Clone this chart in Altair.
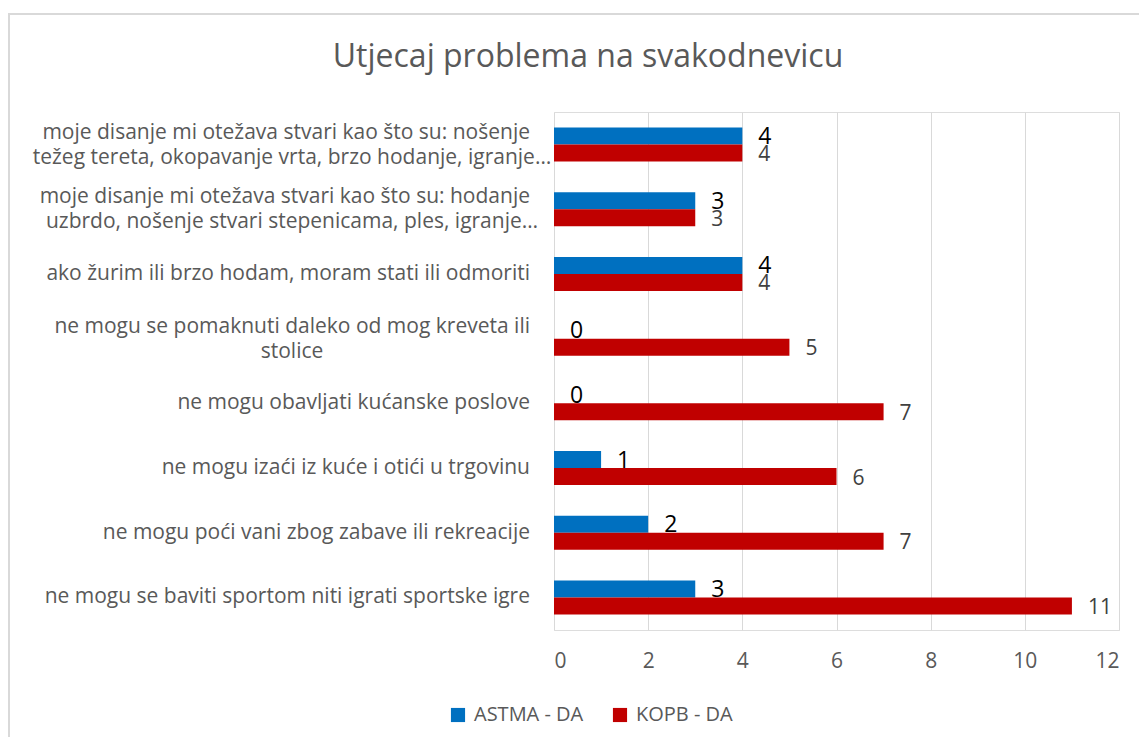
import altair as alt
import pandas as pd

title_text = "Utjecaj problema na svakodnevicu"

categories = [
    "moje disanje mi otežava stvari kao što su: nošenje težeg tereta, okopavanje vrta, brzo hodanje, igranje…",
    "moje disanje mi otežava stvari kao što su: hodanje uzbrdo, nošenje stvari stepenicama, ples, igranje…",
    "ako žurim ili brzo hodam, moram stati ili odmoriti",
    "ne mogu se pomaknuti daleko od mog kreveta ili stolice",
    "ne mogu obavljati kućanske poslove",
    "ne mogu izaći iz kuće i otići u trgovinu",
    "ne mogu poći vani zbog zabave ili rekreacije",
    "ne mogu se baviti sportom niti igrati sportske igre",
]
label_line1 = [
    "moje disanje mi otežava stvari kao što su: nošenje",
    "moje disanje mi otežava stvari kao što su: hodanje",
    "ako žurim ili brzo hodam, moram stati ili odmoriti",
    "ne mogu se pomaknuti daleko od mog kreveta ili",
    "ne mogu obavljati kućanske poslove",
    "ne mogu izaći iz kuće i otići u trgovinu",
    "ne mogu poći vani zbog zabave ili rekreacije",
    "ne mogu se baviti sportom niti igrati sportske igre",
]
label_line2 = [
    "težeg tereta, okopavanje vrta, brzo hodanje, igranje…",
    "uzbrdo, nošenje stvari stepenicama, ples, igranje…",
    "",
    "stolice",
    "",
    "",
    "",
    "",
]
series = ["ASTMA - DA", "KOPB - DA"]
astma = [4, 3, 4, 0, 0, 1, 2, 3]
kopb = [4, 3, 4, 5, 7, 6, 7, 11]
x_ticks = [0, 2, 4, 6, 8, 10, 12]
colors = ["#0070C0", "#C00000"]

rows = []
for c, a, k in zip(categories, astma, kopb):
    rows.append({"cat": c, "series": series[0], "value": a})
    rows.append({"cat": c, "series": series[1], "value": k})
df = pd.DataFrame(rows)
lab = pd.DataFrame({"cat": categories, "l1": label_line1, "l2": label_line2})

FONT = "Open Sans"
GRAY = "#595959"
CAT_FS = 21

yenc = alt.Y("cat:N", sort=categories, axis=None,
             scale=alt.Scale(domain=categories, paddingInner=0.475, paddingOuter=0.24))
yoff = alt.YOffset("series:N", sort=series, scale=alt.Scale(domain=series))
xenc = alt.X("value:Q", scale=alt.Scale(domain=[0, 12], nice=False),
             axis=alt.Axis(values=x_ticks, title=None, grid=True, gridColor="#d9d9d9",
                           gridWidth=1, domain=False, ticks=False, labelFontSize=21,
                           labelColor=GRAY, labelFont=FONT, labelPadding=20))

bars = alt.Chart(df).mark_bar().encode(
    x=xenc, y=yenc, yOffset=yoff,
    color=alt.Color("series:N", sort=series,
                    scale=alt.Scale(domain=series, range=colors),
                    legend=alt.Legend(orient="none", legendX=-106, legendY=593,
                                      direction="horizontal", title=None,
                                      symbolType="square", symbolSize=200,
                                      symbolStrokeWidth=0, labelFontSize=20,
                                      labelFont=FONT, labelColor=GRAY,
                                      columnPadding=26, labelOffset=6)),
)

lab_astma = alt.Chart(df).transform_filter(alt.datum.series == series[0]).mark_text(
    align="left", baseline="middle", dx=16, dy=1, fontSize=23, color="black", font=FONT
).encode(x="value:Q", y=yenc, yOffset=yoff, text="value:Q")

lab_kopb = alt.Chart(df).transform_filter(alt.datum.series == series[1]).mark_text(
    align="left", baseline="middle", dx=16, dy=2, fontSize=21, color="#404040", font=FONT
).encode(x="value:Q", y=yenc, yOffset=yoff, text="value:Q")

cat_single = alt.Chart(lab).transform_filter(alt.datum.l2 == "").mark_text(
    align="right", baseline="middle", fontSize=CAT_FS, color=GRAY, font=FONT
).encode(y=yenc, x=alt.value(-24), text="l1:N")

cat_two1 = alt.Chart(lab).transform_filter(alt.datum.l2 != "").mark_text(
    align="right", baseline="middle", dy=-12, fontSize=CAT_FS, color=GRAY, font=FONT
).encode(y=yenc, x=alt.value(-24), text="l1:N")

cat_two2 = alt.Chart(lab).transform_filter(alt.datum.l2 != "").mark_text(
    align="center", baseline="middle", dy=13, fontSize=CAT_FS, color=GRAY, font=FONT
).encode(y=yenc, x=alt.value(-262), text="l2:N")

tdf = pd.DataFrame({"t": [title_text]})
title = alt.Chart(tdf).mark_text(
    align="center", baseline="middle", fontSize=32, color=GRAY, font=FONT
).encode(x=alt.value(34), y=alt.value(-55), text="t:N")

border = alt.Chart(tdf).mark_rect(fill="transparent", stroke="#d9d9d9", strokeWidth=2).encode(
    x=alt.value(-545), x2=alt.value(620), y=alt.value(-98), y2=alt.value(660)
)

chart = alt.layer(border, bars, lab_astma, lab_kopb, cat_single, cat_two1, cat_two2, title).properties(
    width=565, height=518,
    autosize=alt.AutoSizeParams(type="none"),
    padding={"left": 546, "top": 104, "right": 20, "bottom": 107},
).configure_view(stroke=None).configure(background="white")

chart.save("out.html", embed_options={"renderer": "svg", "actions": False})
